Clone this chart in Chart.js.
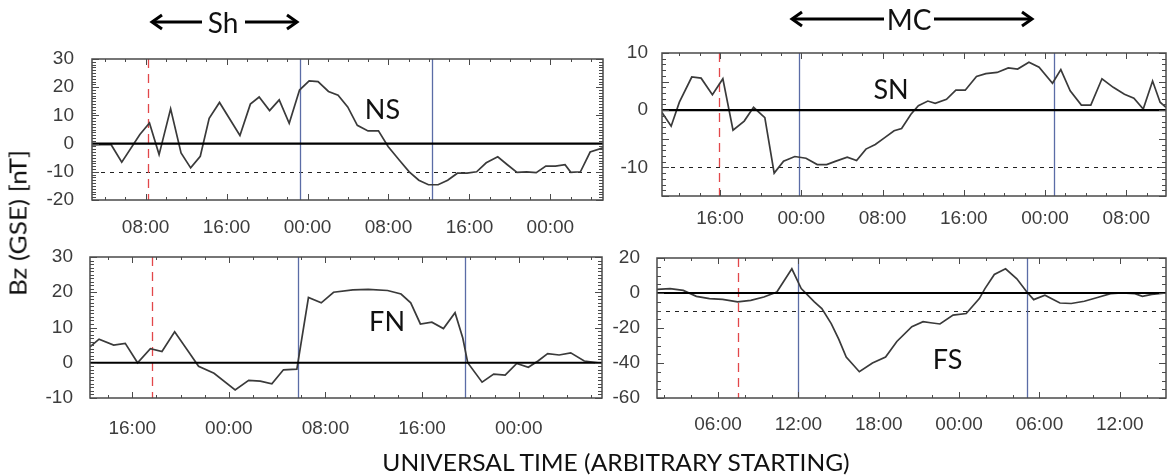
<!DOCTYPE html>
<html><head><meta charset="utf-8">
<script src="https://cdn.jsdelivr.net/npm/chart.js@4.4.0/dist/chart.umd.min.js"></script>
<style>
html,body{margin:0;padding:0;background:#fff;}
#wrap{position:relative;width:1168px;height:475px;overflow:hidden;background:#fff;}
canvas{position:absolute;}
.t{position:absolute;font-family:Lato,'Open Sans',sans-serif;color:#111;white-space:nowrap;line-height:1;}
</style></head><body>
<div id="wrap">
<canvas id="cNS" width="590" height="216" style="left:20px;top:29px"></canvas>
<canvas id="cSN" width="558" height="213" style="left:610px;top:27px"></canvas>
<canvas id="cFN" width="590" height="222" style="left:20px;top:228px"></canvas>
<canvas id="cFS" width="558" height="221" style="left:610px;top:229px"></canvas>
<svg width="1168" height="50" style="position:absolute;left:0;top:0" fill="none" stroke="#000" stroke-width="3">
  <line x1="152" y1="22" x2="202" y2="22"/><polyline points="162,15 152,22 162,29"/>
  <line x1="245" y1="22" x2="297" y2="22"/><polyline points="287,15 297,22 287,29"/>
  <line x1="792" y1="19" x2="884" y2="19"/><polyline points="802,12 792,19 802,26"/>
  <line x1="934" y1="19" x2="1032" y2="19"/><polyline points="1022,12 1032,19 1022,26"/>
</svg>
<div class="t" style="left:223px;top:22px;font-size:28px;transform:translate(-50%,-50%)">Sh</div>
<div class="t" style="left:909px;top:19px;font-size:28px;transform:translate(-50%,-50%)">MC</div>
<div class="t" id="ytitle" style="left:18px;top:223px;font-size:23px;transform:translate(-50%,-50%) rotate(-90deg)">Bz (GSE) [nT]</div>
<div class="t" id="xtitle" style="left:616px;top:462px;font-size:23px;transform:translate(-50%,-50%)">UNIVERSAL TIME (ARBITRARY STARTING)</div>
</div>
<script>
// ---------- data (hours from arbitrary start, Bz in nT) ----------
const nsHours = [2.7,4.58,5.64,7.43,8.38,9.33,10.47,11.5,12.45,13.4,14.28,15.3,17.32,18.35,19.22,20.25,21.2,22.19,23.21,24.16,25.04,26.07,27.02,27.97,28.92,29.98,31.01,31.96,33.1,34.05,35.0,35.95,36.9,37.85,38.81,39.76,40.71,41.66,42.8,43.75,44.7,45.65,46.6,47.55,48.5,49.45,50.02,50.97,51.93,53.2];
const nsBz = [-0.5,-0.3,-6.6,3.2,7.3,-3.9,12.3,-3.3,-8.6,-4.5,9.0,14.6,2.9,14.0,16.5,11.7,15.5,7.2,19.0,22.2,22.0,18.5,17.2,13.0,6.5,4.5,4.5,-1.0,-6.0,-10.0,-13.0,-14.6,-14.6,-13.0,-10.5,-10.5,-10.0,-6.8,-4.7,-7.5,-10.2,-10.0,-10.3,-8.0,-8.0,-7.5,-10.2,-10.0,-3.0,-1.5];
const snHours = [10.3,11.2,12.01,13.23,14.15,15.26,16.29,17.29,18.39,19.31,20.42,21.34,22.26,23.37,24.47,25.58,26.5,27.42,28.53,29.45,30.37,31.29,32.22,33.14,33.88,34.8,35.53,36.46,37.19,38.3,39.22,40.14,41.25,42.17,43.28,44.38,45.3,46.41,47.41,48.73,49.55,50.47,51.57,52.5,53.6,54.71,55.81,56.74,57.66,58.58,59.32,59.9];
const snBz = [-0.4,-2.8,1.4,5.8,5.6,2.7,5.5,-3.5,-1.9,0.5,-1.3,-11.0,-8.9,-8.1,-8.4,-9.5,-9.5,-8.9,-8.2,-8.8,-6.8,-6.0,-4.8,-3.6,-3.2,-0.7,0.8,1.6,1.2,1.9,3.5,3.5,5.9,6.4,6.6,7.4,7.2,8.4,7.5,4.7,7.1,3.4,0.9,0.9,5.5,4.0,2.8,2.1,0.2,5.1,1.4,0.5];
const fnHours = [12.5,13.25,14.46,15.42,16.44,17.5,18.46,19.51,20.69,21.49,22.77,24.52,25.64,26.6,27.56,28.52,29.63,30.59,31.65,32.67,34.27,35.54,37.14,38.26,39.06,39.86,40.81,41.77,42.73,43.37,43.78,44.97,45.93,46.88,47.84,48.8,49.6,50.4,51.35,52.31,53.43,54.9];
const fnBz = [4.5,6.7,5.0,5.5,0.0,4.0,3.2,8.8,3.0,-1.0,-3.0,-7.7,-5.0,-5.2,-6.0,-2.0,-1.8,18.5,17.0,20.0,20.7,20.8,20.5,19.5,17.0,11.0,11.5,9.7,14.2,7.0,0.0,-5.5,-3.2,-3.5,-0.2,-1.3,0.5,2.6,2.2,2.8,0.5,-0.2];
const fsHours = [1.44,2.42,3.4,4.38,5.36,6.34,7.46,8.44,9.42,10.39,11.51,12.21,13.19,13.75,14.45,15.01,15.57,16.55,17.53,18.51,19.35,20.47,21.31,21.87,22.57,23.55,24.53,25.51,25.93,26.63,27.47,28.31,29.06,29.57,30.41,31.53,32.37,33.35,34.33,35.31,36.15,37.13,37.69,38.39,39.45];
const fsBz = [2.1,2.5,1.5,-1.9,-3.2,-3.6,-5.1,-4.2,-2.3,0.6,13.8,2.5,-5.1,-8.9,-17.5,-26.4,-36.6,-45.0,-40.0,-36.6,-27.7,-19.2,-16.4,-17.0,-17.7,-12.6,-11.7,-3.2,2.5,10.6,13.8,8.1,0.6,-3.8,-1.3,-5.7,-6.0,-4.7,-2.6,-0.4,0.0,-0.4,-1.9,-0.8,0.0];

// tick positions (hours) and labels
const nsTickHours = [8,16,24,32,40,48];
const nsTickLabels = ['08:00','16:00','00:00','08:00','16:00','00:00'];
const snTickHours = [16,24,32,40,48,56];
const snTickLabels = ['16:00','00:00','08:00','16:00','00:00','08:00'];
const fnTickHours = [16,24,32,40,48];
const fnTickLabels = ['16:00','00:00','08:00','16:00','00:00'];
const fsTickHours = [6,12,18,24,30,36];
const fsTickLabels = ['06:00','12:00','18:00','00:00','06:00','12:00'];
const nsYTicks = [-20,-10,0,10,20,30];
const snYTicks = [-10,0,10];
const fnYTicks = [-10,0,10,20,30];
const fsYTicks = [-60,-40,-20,0,20];

// event markers (hours): shock (red dashed) and cloud boundaries (blue)
const nsShock = 8.19, nsBounds = [23.21, 36.33];
const snShock = 15.88, snBounds = [23.74, 48.88];
const fnShock = 17.66, fnBounds = [29.73, 43.53];
const fsShock = 7.46, fsBounds = [11.99, 29.06];
const threshold = -10;

function panel(id, o) {
  const framePlugin = {
    id: 'frame_' + id,
    beforeDatasetsDraw(chart) {
      const {ctx, chartArea: a, scales: {x, y}} = chart;
      ctx.save();
      if (o.dashed) {
        const py = Math.round(y.getPixelForValue(threshold)) + 0.5;
        ctx.strokeStyle = '#222'; ctx.lineWidth = 1.2; ctx.setLineDash([4, 5]);
        ctx.beginPath(); ctx.moveTo(a.left, py); ctx.lineTo(a.right, py); ctx.stroke();
      }
      ctx.setLineDash([]);
      ctx.strokeStyle = '#5b6ca6'; ctx.lineWidth = 1.3;
      o.bounds.forEach(h => {
        const px = Math.round(x.getPixelForValue(h)) + 0.5;
        ctx.beginPath(); ctx.moveTo(px, a.top); ctx.lineTo(px, a.bottom); ctx.stroke();
      });
      ctx.strokeStyle = '#e2474a'; ctx.lineWidth = 1.3; ctx.setLineDash([9, 6]);
      const sx = Math.round(x.getPixelForValue(o.shock)) + 0.5;
      ctx.beginPath(); ctx.moveTo(sx, a.top); ctx.lineTo(sx, a.bottom); ctx.stroke();
      ctx.setLineDash([]);
      ctx.restore();
    },
    afterDatasetsDraw(chart) {
      const {ctx, chartArea: a, scales: {x, y}} = chart;
      ctx.save();
      const zy = y.getPixelForValue(0);
      ctx.strokeStyle = '#000'; ctx.lineWidth = 2.2;
      ctx.beginPath(); ctx.moveTo(a.left, zy); ctx.lineTo(a.right, zy); ctx.stroke();
      ctx.strokeStyle = '#4a4a4a'; ctx.lineWidth = 1.5;
      ctx.strokeRect(a.left, a.top, a.right - a.left, a.bottom - a.top);
      ctx.lineWidth = 1;
      for (let v = o.ymin; v <= o.ymax + 1e-9; v += o.yMinor) {
        const py = Math.round(y.getPixelForValue(v)) + 0.5;
        const major = Math.abs(v / o.yMajor - Math.round(v / o.yMajor)) < 1e-6;
        const len = major ? 7 : 4;
        ctx.beginPath();
        ctx.moveTo(a.left, py); ctx.lineTo(a.left + len, py);
        ctx.moveTo(a.right, py); ctx.lineTo(a.right - len, py);
        ctx.stroke();
      }
      for (let h = Math.ceil(o.xmin / 2) * 2; h <= o.xmax; h += 2) {
        const px = Math.round(x.getPixelForValue(h)) + 0.5;
        const major = o.ticks.includes(h);
        const len = major ? 6 : 3;
        ctx.beginPath();
        ctx.moveTo(px, a.top); ctx.lineTo(px, a.top + len);
        ctx.moveTo(px, a.bottom); ctx.lineTo(px, a.bottom - len);
        ctx.stroke();
      }
      ctx.fillStyle = '#111';
      ctx.font = '27px Lato, "Open Sans", sans-serif';
      ctx.textAlign = 'center'; ctx.textBaseline = 'middle';
      ctx.fillText(o.name, x.getPixelForValue(o.labelAt[0]), y.getPixelForValue(o.labelAt[1]));
      ctx.restore();
    }
  };
  const tickFont = {family: '"Liberation Sans", Arial, sans-serif', size: 19};
  return new Chart(document.getElementById(id), {
    type: 'line',
    data: {datasets: [{
      data: o.hours.map((h, i) => ({x: h, y: o.bz[i]})),
      borderColor: '#3a3a3a', borderWidth: 1.7, pointRadius: 0, tension: 0, fill: false
    }]},
    options: {
      responsive: false, animation: false,
      layout: {padding: {top: o.padTop, right: o.padRight, bottom: 0, left: 0}},
      plugins: {legend: {display: false}, tooltip: {enabled: false}},
      scales: {
        x: {
          type: 'linear', min: o.xmin, max: o.xmax,
          grid: {display: false, drawTicks: false}, border: {display: false},
          afterFit: s => { s.height = o.xH; },
          afterBuildTicks: s => { s.ticks = o.ticks.map(v => ({value: v})); },
          ticks: {
            autoSkip: false, maxRotation: 0, padding: o.xPad, color: '#3c3c3c', font: tickFont,
            callback: v => { const i = o.ticks.indexOf(v); return i >= 0 ? o.tickLabels[i] : ''; }
          }
        },
        y: {
          type: 'linear', min: o.ymin, max: o.ymax,
          grid: {display: false, drawTicks: false}, border: {display: false},
          afterFit: s => { s.width = o.yW; },
          afterBuildTicks: s => { s.ticks = o.yTicks.map(v => ({value: v})); },
          ticks: {autoSkip: false, padding: o.yPad, color: '#3c3c3c', font: tickFont}
        }
      }
    },
    plugins: [framePlugin]
  });
}

panel('cNS', {name: 'NS', hours: nsHours, bz: nsBz, xmin: 2.7, xmax: 53.2, ymin: -20, ymax: 30,
  ticks: nsTickHours, tickLabels: nsTickLabels, yTicks: nsYTicks, shock: nsShock, bounds: nsBounds,
  dashed: true, yMinor: 1, yMajor: 10, labelAt: [31.4, 11.7],
  padTop: 30, padRight: 7, yW: 72, xH: 45, xPad: 16, yPad: 18});
panel('cSN', {name: 'SN', hours: snHours, bz: snBz, xmin: 10.3, xmax: 59.9, ymin: -15, ymax: 10,
  ticks: snTickHours, tickLabels: snTickLabels, yTicks: snYTicks, shock: snShock, bounds: snBounds,
  dashed: true, yMinor: 1, yMajor: 5, labelAt: [32.84, 3.5],
  padTop: 26, padRight: 2, yW: 52, xH: 44, xPad: 11, yPad: 14});
panel('cFN', {name: 'FN', hours: fnHours, bz: fnBz, xmin: 12.5, xmax: 54.9, ymin: -10, ymax: 30,
  ticks: fnTickHours, tickLabels: fnTickLabels, yTicks: fnYTicks, shock: fnShock, bounds: fnBounds,
  dashed: false, yMinor: 1, yMajor: 10, labelAt: [37.1, 11.6],
  padTop: 29, padRight: 8, yW: 70, xH: 52, xPad: 19, yPad: 17});
panel('cFS', {name: 'FS', hours: fsHours, bz: fsBz, xmin: 1.44, xmax: 39.45, ymin: -60, ymax: 20,
  ticks: fsTickHours, tickLabels: fsTickLabels, yTicks: fsYTicks, shock: fsShock, bounds: fsBounds,
  dashed: true, yMinor: 5, yMajor: 20, labelAt: [23.14, -38.3],
  padTop: 29, padRight: 2, yW: 47, xH: 52, xPad: 15, yPad: 17});

// stretch titles to the reference text lengths
function fitLength(el, target) {
  const w = el.offsetWidth;
  el.style.transform = el.style.transform.replace(/\)\s*$/, ')') + ' scaleX(' + (target / w) + ')';
}
fitLength(document.getElementById('xtitle'), 467);
fitLength(document.getElementById('ytitle'), 146);
</script>
</body></html>
